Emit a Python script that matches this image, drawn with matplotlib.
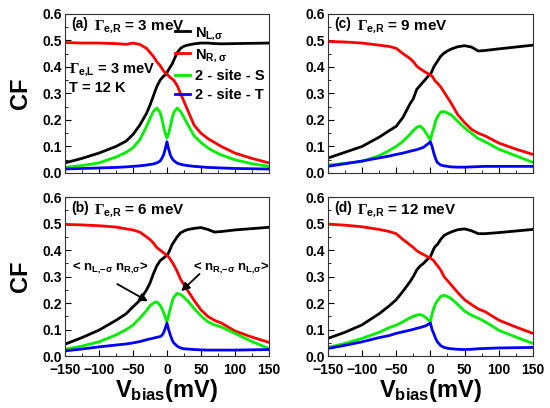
import matplotlib
matplotlib.use("Agg")
import matplotlib.pyplot as plt
from matplotlib.ticker import MultipleLocator, FormatStrFormatter

plt.rcParams['font.family'] = ['Liberation Sans', 'DejaVu Sans']
plt.rcParams['font.weight'] = 'bold'
plt.rcParams['mathtext.fontset'] = 'custom'
plt.rcParams['mathtext.rm'] = 'Liberation Serif'
plt.rcParams['mathtext.it'] = 'Liberation Sans:bold'
plt.rcParams['mathtext.sf'] = 'Liberation Sans:bold'
plt.rcParams['mathtext.bf'] = 'Liberation Sans:bold'

# bias voltage samples (mV)
v = [-150, -125, -100, -75, -60, -50, -40, -30, -25, -20, -15, -10, -7.5, -5, -2.5, 0,
     2.5, 5, 7.5, 10, 15, 20, 25, 30, 40, 50, 60, 70, 80, 100, 125, 150]

# panel (a): Gamma_eR = 3 meV
a_NL = [.038, .055, .075, .10, .12, .145, .18, .225, .255, .29, .325, .35, .358, .365, .37, .377,
        .39, .40, .41, .425, .453, .47, .478, .482, .487, .49, .49, .488, .487, .488, .489, .49]
a_NR = [.492, .49, .49, .488, .485, .49, .485, .47, .455, .44, .42, .405, .395, .385, .378, .372,
        .366, .36, .355, .35, .33, .30, .27, .24, .18, .15, .13, .115, .10, .075, .055, .038]
a_S = [.021, .028, .038, .06, .078, .095, .125, .175, .205, .232, .245, .228, .205, .175, .15, .132,
       .15, .175, .205, .228, .245, .232, .21, .185, .14, .115, .095, .08, .068, .05, .035, .025]
a_T = [.015, .017, .019, .021, .023, .025, .027, .03, .032, .034, .038, .045, .055, .068, .09, .118,
       .09, .068, .055, .047, .037, .033, .03, .028, .025, .023, .021, .02, .019, .017, .016, .015]

# panel (b): Gamma_eR = 6 meV
b_NL = [.045, .07, .098, .135, .16, .186, .21, .25, .275, .31, .34, .36, .365, .37, .375, .38,
        .39, .405, .42, .43, .45, .465, .472, .477, .482, .485, .478, .468, .47, .476, .481, .486]
b_NR = [.497, .495, .492, .487, .48, .476, .468, .45, .44, .427, .41, .40, .395, .39, .385, .38,
        .375, .365, .355, .345, .32, .29, .27, .25, .21, .175, .15, .135, .125, .095, .072, .052]
b_S = [.026, .038, .054, .08, .10, .117, .143, .172, .19, .20, .205, .192, .18, .165, .148, .13,
       .155, .18, .205, .222, .237, .233, .222, .21, .18, .152, .13, .118, .11, .086, .055, .029]
b_T = [.02, .027, .035, .042, .046, .05, .055, .062, .065, .068, .071, .074, .078, .088, .105, .125,
       .10, .08, .062, .05, .038, .031, .028, .027, .025, .024, .023, .023, .023, .023, .024, .025]

# panel (c): Gamma_eR = 9 meV
c_NL = [.056, .078, .10, .135, .16, .176, .21, .26, .28, .315, .33, .345, .352, .36, .367, .372,
        .385, .40, .41, .42, .44, .452, .46, .467, .476, .48, .475, .46, .462, .468, .475, .482]
c_NR = [.496, .494, .49, .482, .477, .47, .45, .432, .42, .403, .393, .385, .38, .377, .373, .37,
        .365, .355, .345, .34, .325, .305, .285, .265, .22, .19, .165, .15, .14, .113, .09, .07]
c_S = [.03, .036, .044, .065, .085, .10, .12, .145, .16, .172, .177, .165, .155, .145, .135, .125,
       .15, .17, .195, .21, .23, .232, .226, .22, .195, .17, .15, .13, .118, .09, .065, .04]
c_T = [.025, .035, .045, .057, .064, .07, .075, .082, .085, .088, .092, .097, .102, .107, .112, .118,
       .10, .075, .055, .04, .03, .027, .025, .023, .022, .022, .023, .024, .025, .025, .025, .025]

# panel (d): Gamma_eR = 12 meV
d_NL = [.067, .09, .118, .16, .19, .213, .245, .28, .30, .325, .34, .35, .357, .363, .37, .375,
        .39, .405, .415, .42, .44, .455, .462, .468, .477, .48, .473, .462, .462, .466, .472, .478]
d_NR = [.498, .494, .488, .478, .47, .462, .44, .42, .41, .398, .39, .383, .38, .376, .373, .37,
        .365, .36, .35, .343, .325, .30, .285, .27, .24, .213, .195, .178, .168, .136, .11, .086]
d_S = [.033, .048, .067, .09, .108, .117, .13, .145, .15, .155, .157, .152, .147, .142, .136, .13,
       .16, .182, .198, .208, .225, .23, .225, .218, .195, .17, .155, .143, .13, .098, .072, .048]
d_T = [.029, .041, .054, .07, .078, .086, .092, .098, .101, .105, .108, .112, .114, .117, .121, .125,
       .10, .085, .068, .055, .04, .033, .03, .028, .026, .025, .026, .028, .029, .031, .032, .033]

panels = [
    ('(a)', '3', a_NL, a_NR, a_S, a_T),
    ('(b)', '6', b_NL, b_NR, b_S, b_T),
    ('(c)', '9', c_NL, c_NR, c_S, c_T),
    ('(d)', '12', d_NL, d_NR, d_S, d_T),
]

fig = plt.figure(figsize=(5.5, 4.08), dpi=100)
pos = [
    [0.118, 0.576, 0.371, 0.390],
    [0.118, 0.127, 0.371, 0.390],
    [0.596, 0.576, 0.373, 0.390],
    [0.596, 0.127, 0.373, 0.390],
]

def gam(sub):
    return r'$\Gamma_{\mathsf{e}{,}\mathsf{' + sub + '}}$'

axes = []
for i, (tag, g, nl, nr, s, t) in enumerate(panels):
    ax = fig.add_axes(pos[i])
    axes.append(ax)
    kw = dict(lw=2, solid_joinstyle='round')
    ax.plot(v, nl, color='black', label=r'N$_{\mathsf{L}{,}\sigma}$', **kw)
    ax.plot(v, nr, color='#ff0000', label=r'N$_{\mathsf{R}{,}\ \sigma}$', **kw)
    ax.plot(v, s, color='#00ee00', label='2 - site - S', **kw)
    ax.plot(v, t, color='#0000ff', label='2 - site - T', **kw)
    ax.set_xlim(-150, 150)
    ax.set_ylim(0, 0.6)
    ax.xaxis.set_major_locator(MultipleLocator(50))
    ax.xaxis.set_minor_locator(MultipleLocator(25))
    ax.yaxis.set_major_locator(MultipleLocator(0.1))
    ax.yaxis.set_minor_locator(MultipleLocator(0.05))
    ax.yaxis.set_major_formatter(FormatStrFormatter('%.1f'))
    ax.tick_params(which='both', direction='in', top=False, right=False, labelsize=10)
    ax.tick_params(which='major', length=4)
    ax.tick_params(which='minor', length=2)
    ax.tick_params(axis='x', pad=5)
    ax.tick_params(axis='y', pad=2)
    for sp in ax.spines.values():
        sp.set_color('#333333')
    ax.text(-141, 0.545, tag, fontsize=10, fontweight='bold')
    ax.text(-107, 0.54, gam('R') + ' = ' + g + ' meV', fontsize=11, fontweight='bold')
    if i in (0, 2):
        ax.tick_params(labelbottom=False)
    else:
        ax.set_xlabel(r'V$_{\mathsf{bias}}$(mV)', fontsize=17, fontweight='bold', labelpad=0)
    if i in (0, 1):
        ax.set_ylabel('CF', fontsize=17, fontweight='bold', labelpad=8)

ax = axes[0]
ax.text(-144, 0.38, gam('L') + ' = 3 meV', fontsize=10.5, fontweight='bold')
ax.text(-144, 0.305, 'T = 12 K', fontsize=10.5, fontweight='bold')
ax.legend(loc='upper left', bbox_to_anchor=(0.54, 0.93), frameon=False, fontsize=10.5,
          handlelength=1.0, handletextpad=0.35, labelspacing=0.35, borderpad=0, borderaxespad=0)

ax = axes[1]
ax.text(-140, 0.325, r'< n$_{\mathsf{L}{,}\mathsf{-}\sigma}$ n$_{\mathsf{R}{,}\sigma}$>',
        fontsize=9.5, fontweight='bold')
ax.annotate('', xy=(-28, 0.207), xytext=(-73, 0.272),
            arrowprops=dict(arrowstyle='-|>', color='black', lw=1.3, mutation_scale=12,
                            shrinkA=0, shrinkB=0))
ax.text(38, 0.325, r'< n$_{\mathsf{R}{,}\mathsf{-}\sigma}$ n$_{\mathsf{L}{,}\sigma}$>',
        fontsize=9.5, fontweight='bold')
ax.annotate('', xy=(21, 0.245), xytext=(48, 0.31),
            arrowprops=dict(arrowstyle='-|>', color='black', lw=1.3, mutation_scale=12,
                            shrinkA=0, shrinkB=0))

fig.savefig('out.png', dpi=100)
